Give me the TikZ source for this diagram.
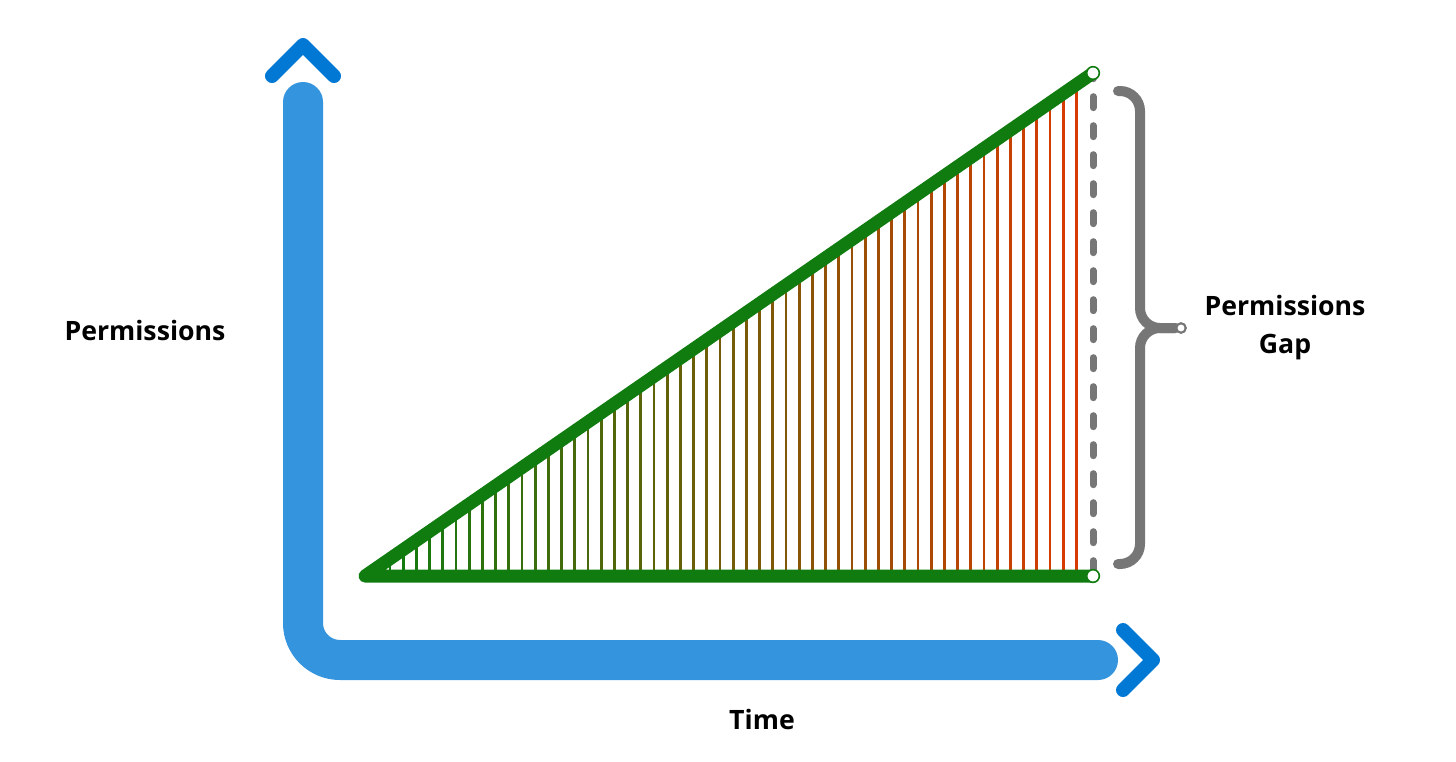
\documentclass[tikz,border=0pt]{standalone}
\usepackage{fontspec}
\setmainfont{Open Sans}
\definecolor{axisblue}{HTML}{3494DD}
\definecolor{headblue}{HTML}{0078D4}
\definecolor{hgreen}{HTML}{107C10}
\definecolor{hred}{HTML}{D83B01}
\definecolor{gapgrey}{HTML}{767676}
\begin{document}
\begin{tikzpicture}[x=0.75pt,y=-0.75pt,
  axis/.style={draw=axisblue, line width=30pt, line cap=round, line join=round, rounded corners=27.75pt},
  head/.style={draw=headblue, line width=10.5pt, line cap=round, line join=round},
  hatch/.style={line width=2.2pt},
  leg/.style={draw=hgreen, line width=9.75pt, line cap=round, line join=round},
  endpt/.style={circle, draw=hgreen, fill=white, line width=1.2pt, inner sep=0pt, minimum size=9.5pt},
  gapline/.style={draw=gapgrey, line width=5.25pt, line cap=round, dash pattern=on 8.25pt off 13.5pt, dash phase=4pt},
  brace/.style={draw=gapgrey, line width=7.5pt, line cap=round, rounded corners=15pt},
  bracetip/.style={circle, draw=gapgrey, fill=white, line width=1.5pt, inner sep=0pt, minimum size=7pt},
  lbl/.style={font=\bfseries\fontsize{20}{28.5}\selectfont, align=center, inner sep=0pt}]
\useasboundingbox (0,0) rectangle (1456,761);
% axes
\coordinate (ytop) at (303,102);
\coordinate (corner) at (303,660);
\coordinate (xend) at (1098,660);
\draw[axis] (ytop) -- (corner) -- (xend);
\coordinate (uapex) at (303,45);
\coordinate (ul) at (272,76);
\coordinate (ur) at (334,76);
\draw[head] (ul) -- (uapex) -- (ur);
\coordinate (rapex) at (1153,660);
\coordinate (rt) at (1123,630);
\coordinate (rb) at (1123,690);
\draw[head] (rt) -- (rapex) -- (rb);
% hatching
\foreach \i in {0,...,52}{
  \pgfmathsetmacro\xx{390+13.2*\i}
  \pgfmathsetmacro\yy{576-(\xx-365)/728*503}
  \pgfmathtruncatemacro\p{100-100*\i/52}
  \draw[hatch, hgreen!\p!hred] (\xx,576) -- (\xx,\yy);
}
% triangle
\coordinate (A) at (365,576);
\coordinate (B) at (1093,576);
\coordinate (C) at (1093,73);
\draw[gapline] (C) -- (B);
\draw[leg] (C) -- (A) -- (B);
\node[endpt] (cC) at (C) {};
\node[endpt] (cB) at (B) {};
% brace
\node[bracetip] (bm) at (1181,328) {};
\coordinate (bt) at (1118,91);
\coordinate (bb) at (1118,564);
\draw[brace] (bt) -- (1140,91) -- (1140,328) -- (bm.west);
\draw[brace] (bb) -- (1140,564) -- (1140,328) -- (bm.west);
\node[bracetip] (bm2) at (bm) {};
% labels
\node[lbl] (ylab) at (145,330) {Permissions};
\node[lbl] (xlab) at (762,719) {Time};
\node[lbl] (glab) at (1285,328) {Permissions\\Gap};
\end{tikzpicture}
\end{document}
